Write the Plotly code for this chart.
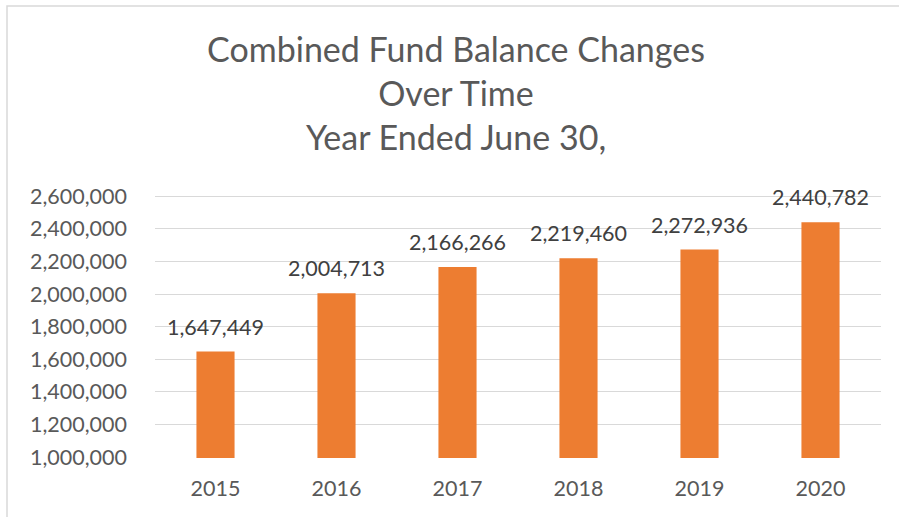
import plotly.graph_objects as go

years = ["2015", "2016", "2017", "2018", "2019", "2020"]
balances = [1647449, 2004713, 2166266, 2219460, 2272936, 2440782]
y_tickvals = [1000000, 1200000, 1400000, 1600000, 1800000, 2000000, 2200000, 2400000, 2600000]

W, H = 899, 517
L, R, T, B = 155, 18, 193, 59
pw, ph = W - L - R, H - T - B

FONT = "Lato, Carlito, Calibri, sans-serif"

fig = go.Figure()
fig.add_trace(go.Bar(x=years, y=balances, marker=dict(color="#ED7D31", line=dict(width=0)),
                     width=0.315, hoverinfo="x+y"))

for i, v in enumerate(balances):
    fig.add_annotation(x=i, y=v, text=f"{v:,}", showarrow=False, yshift=25,
                       font=dict(family=FONT, size=21.5, color="#404040"))

def px_x(p):
    return (p - L) / pw

def px_y(p):
    return (H - B - p) / ph

fig.add_shape(type="rect", xref="paper", yref="paper",
              x0=px_x(7), x1=px_x(910), y0=px_y(530), y1=px_y(6),
              line=dict(color="#D9D9D9", width=1.5), fillcolor="rgba(0,0,0,0)", layer="below")

fig.update_layout(
    width=W, height=H,
    margin=dict(l=L, r=R, t=T, b=B),
    paper_bgcolor="white", plot_bgcolor="white",
    showlegend=False,
    title=dict(text="Combined Fund Balance Changes<br>Over Time<br>Year Ended June 30,",
               x=456 / W, xanchor="center", xref="container",
               y=1 - 62 / H, yanchor="top", yref="container",
               font=dict(family=FONT, size=34, color="#595959")),
    font=dict(family=FONT, color="#595959"),
    xaxis=dict(type="category", range=[-0.5, 5.5], showgrid=False, showline=False, zeroline=False,
               ticks="outside", ticklen=11, tickcolor="rgba(0,0,0,0)",
               tickfont=dict(family=FONT, size=21.5, color="#595959")),
    yaxis=dict(range=[994000, 2620000], tickvals=y_tickvals, tickformat=",",
               showgrid=True, gridcolor="#D9D9D9", gridwidth=1.3, zeroline=False,
               showline=False, ticklabelstandoff=27,
               tickfont=dict(family=FONT, size=21.5, color="#595959")),
)

fig.write_html("out.html", config={"displayModeBar": False},
               post_script="document.body.style.margin='0';document.body.style.overflow='hidden';")
